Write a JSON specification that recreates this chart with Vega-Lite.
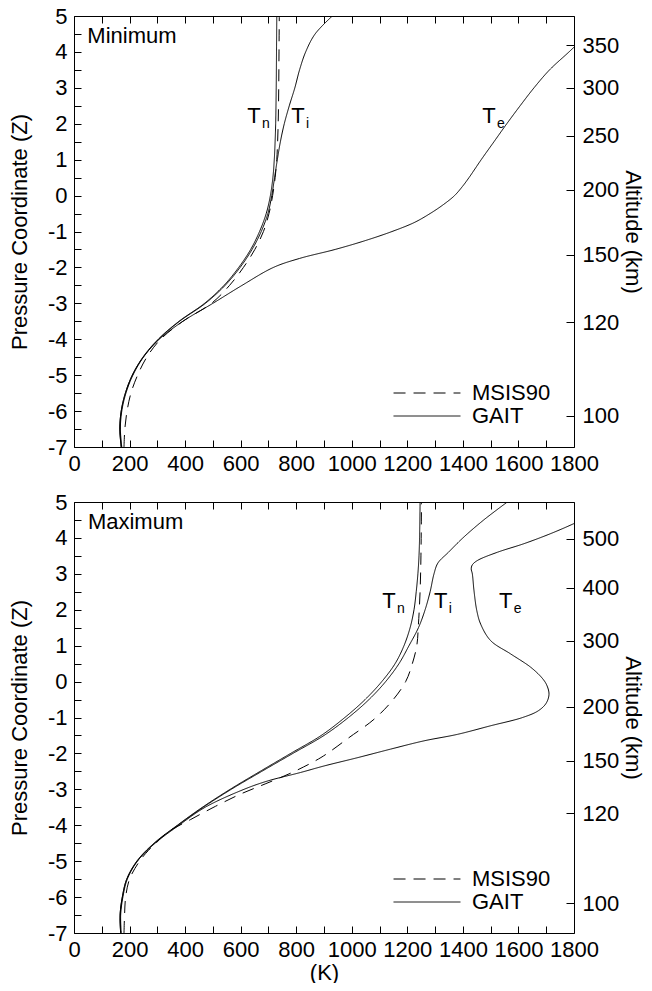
{
  "$schema": "https://vega.github.io/schema/vega-lite/v6.json",
  "padding": {"left": 8, "top": 5, "right": 0, "bottom": 0},
  "spacing": 17,
  "config": {
    "font": "Liberation Sans",
    "view": {"stroke": null},
    "axis": {"labelFont": "Liberation Sans", "titleFont": "Liberation Sans", "labelFontSize": 22, "titleFontSize": 22, "titleFontWeight": "normal", "labelColor": "#000", "titleColor": "#000", "domainColor": "#000", "tickColor": "#000", "domainWidth": 1, "tickWidth": 1, "grid": false},
    "legend": {"labelFont": "Liberation Sans", "labelFontSize": 22, "labelColor": "#000"}
  },
  "datasets": {
    "curves": [
      {"p":"min","s":"Tn","m":"GAIT","z":-7,"t":170},{"p":"min","s":"Tn","m":"GAIT","z":-6.5,"t":165},{"p":"min","s":"Tn","m":"GAIT","z":-6,"t":170},{"p":"min","s":"Tn","m":"GAIT","z":-5.5,"t":185},{"p":"min","s":"Tn","m":"GAIT","z":-5,"t":210},{"p":"min","s":"Tn","m":"GAIT","z":-4.5,"t":248},{"p":"min","s":"Tn","m":"GAIT","z":-4,"t":303},{"p":"min","s":"Tn","m":"GAIT","z":-3.5,"t":378},{"p":"min","s":"Tn","m":"GAIT","z":-3,"t":470},{"p":"min","s":"Tn","m":"GAIT","z":-2.5,"t":540},{"p":"min","s":"Tn","m":"GAIT","z":-2,"t":593},{"p":"min","s":"Tn","m":"GAIT","z":-1.5,"t":636},{"p":"min","s":"Tn","m":"GAIT","z":-1,"t":668},{"p":"min","s":"Tn","m":"GAIT","z":-0.5,"t":692},{"p":"min","s":"Tn","m":"GAIT","z":0,"t":707},{"p":"min","s":"Tn","m":"GAIT","z":0.5,"t":716},{"p":"min","s":"Tn","m":"GAIT","z":1,"t":721},{"p":"min","s":"Tn","m":"GAIT","z":1.5,"t":724},{"p":"min","s":"Tn","m":"GAIT","z":2,"t":726},{"p":"min","s":"Tn","m":"GAIT","z":3,"t":728},{"p":"min","s":"Tn","m":"GAIT","z":4,"t":729},{"p":"min","s":"Tn","m":"GAIT","z":5,"t":730},
      {"p":"min","s":"Ti","m":"GAIT","z":-7,"t":172},{"p":"min","s":"Ti","m":"GAIT","z":-6.5,"t":167},{"p":"min","s":"Ti","m":"GAIT","z":-6,"t":172},{"p":"min","s":"Ti","m":"GAIT","z":-5.5,"t":187},{"p":"min","s":"Ti","m":"GAIT","z":-5,"t":212},{"p":"min","s":"Ti","m":"GAIT","z":-4.5,"t":250},{"p":"min","s":"Ti","m":"GAIT","z":-4,"t":305},{"p":"min","s":"Ti","m":"GAIT","z":-3.5,"t":380},{"p":"min","s":"Ti","m":"GAIT","z":-3,"t":473},{"p":"min","s":"Ti","m":"GAIT","z":-2.5,"t":544},{"p":"min","s":"Ti","m":"GAIT","z":-2,"t":598},{"p":"min","s":"Ti","m":"GAIT","z":-1.5,"t":641},{"p":"min","s":"Ti","m":"GAIT","z":-1,"t":674},{"p":"min","s":"Ti","m":"GAIT","z":-0.5,"t":698},{"p":"min","s":"Ti","m":"GAIT","z":0,"t":712},{"p":"min","s":"Ti","m":"GAIT","z":0.5,"t":722},{"p":"min","s":"Ti","m":"GAIT","z":1,"t":732},{"p":"min","s":"Ti","m":"GAIT","z":1.5,"t":743},{"p":"min","s":"Ti","m":"GAIT","z":2,"t":757},{"p":"min","s":"Ti","m":"GAIT","z":2.5,"t":775},{"p":"min","s":"Ti","m":"GAIT","z":3,"t":795},{"p":"min","s":"Ti","m":"GAIT","z":3.5,"t":812},{"p":"min","s":"Ti","m":"GAIT","z":4,"t":834},{"p":"min","s":"Ti","m":"GAIT","z":4.5,"t":868},{"p":"min","s":"Ti","m":"GAIT","z":5,"t":930},
      {"p":"min","s":"Te","m":"GAIT","z":-7,"t":170},{"p":"min","s":"Te","m":"GAIT","z":-6.5,"t":165},{"p":"min","s":"Te","m":"GAIT","z":-6,"t":170},{"p":"min","s":"Te","m":"GAIT","z":-5.5,"t":185},{"p":"min","s":"Te","m":"GAIT","z":-5,"t":210},{"p":"min","s":"Te","m":"GAIT","z":-4.5,"t":249},{"p":"min","s":"Te","m":"GAIT","z":-4,"t":307},{"p":"min","s":"Te","m":"GAIT","z":-3.5,"t":392},{"p":"min","s":"Te","m":"GAIT","z":-3,"t":500},{"p":"min","s":"Te","m":"GAIT","z":-2.5,"t":605},{"p":"min","s":"Te","m":"GAIT","z":-2,"t":718},{"p":"min","s":"Te","m":"GAIT","z":-1.75,"t":812},{"p":"min","s":"Te","m":"GAIT","z":-1.5,"t":940},{"p":"min","s":"Te","m":"GAIT","z":-1.25,"t":1050},{"p":"min","s":"Te","m":"GAIT","z":-1,"t":1145},{"p":"min","s":"Te","m":"GAIT","z":-0.75,"t":1225},{"p":"min","s":"Te","m":"GAIT","z":-0.5,"t":1282},{"p":"min","s":"Te","m":"GAIT","z":-0.25,"t":1330},{"p":"min","s":"Te","m":"GAIT","z":0,"t":1370},{"p":"min","s":"Te","m":"GAIT","z":0.25,"t":1398},{"p":"min","s":"Te","m":"GAIT","z":0.5,"t":1422},{"p":"min","s":"Te","m":"GAIT","z":1,"t":1466},{"p":"min","s":"Te","m":"GAIT","z":1.5,"t":1512},{"p":"min","s":"Te","m":"GAIT","z":2,"t":1558},{"p":"min","s":"Te","m":"GAIT","z":2.5,"t":1606},{"p":"min","s":"Te","m":"GAIT","z":3,"t":1656},{"p":"min","s":"Te","m":"GAIT","z":3.5,"t":1712},{"p":"min","s":"Te","m":"GAIT","z":4,"t":1782},{"p":"min","s":"Te","m":"GAIT","z":4.5,"t":1850},
      {"p":"min","s":"Tm","m":"MSIS90","z":-7,"t":180},{"p":"min","s":"Tm","m":"MSIS90","z":-6.5,"t":183},{"p":"min","s":"Tm","m":"MSIS90","z":-6,"t":191},{"p":"min","s":"Tm","m":"MSIS90","z":-5.5,"t":205},{"p":"min","s":"Tm","m":"MSIS90","z":-5,"t":229},{"p":"min","s":"Tm","m":"MSIS90","z":-4.5,"t":262},{"p":"min","s":"Tm","m":"MSIS90","z":-4,"t":312},{"p":"min","s":"Tm","m":"MSIS90","z":-3.5,"t":392},{"p":"min","s":"Tm","m":"MSIS90","z":-3,"t":495},{"p":"min","s":"Tm","m":"MSIS90","z":-2.5,"t":560},{"p":"min","s":"Tm","m":"MSIS90","z":-2,"t":610},{"p":"min","s":"Tm","m":"MSIS90","z":-1.5,"t":651},{"p":"min","s":"Tm","m":"MSIS90","z":-1,"t":682},{"p":"min","s":"Tm","m":"MSIS90","z":-0.5,"t":702},{"p":"min","s":"Tm","m":"MSIS90","z":0,"t":715},{"p":"min","s":"Tm","m":"MSIS90","z":0.5,"t":724},{"p":"min","s":"Tm","m":"MSIS90","z":1,"t":730},{"p":"min","s":"Tm","m":"MSIS90","z":2,"t":735},{"p":"min","s":"Tm","m":"MSIS90","z":3,"t":737},{"p":"min","s":"Tm","m":"MSIS90","z":4,"t":738},{"p":"min","s":"Tm","m":"MSIS90","z":5,"t":739},
      {"p":"max","s":"Tn","m":"GAIT","z":-7,"t":168},{"p":"max","s":"Tn","m":"GAIT","z":-6.5,"t":166},{"p":"max","s":"Tn","m":"GAIT","z":-6,"t":174},{"p":"max","s":"Tn","m":"GAIT","z":-5.5,"t":190},{"p":"max","s":"Tn","m":"GAIT","z":-5,"t":226},{"p":"max","s":"Tn","m":"GAIT","z":-4.5,"t":288},{"p":"max","s":"Tn","m":"GAIT","z":-4,"t":372},{"p":"max","s":"Tn","m":"GAIT","z":-3.5,"t":462},{"p":"max","s":"Tn","m":"GAIT","z":-3,"t":562},{"p":"max","s":"Tn","m":"GAIT","z":-2.5,"t":670},{"p":"max","s":"Tn","m":"GAIT","z":-2,"t":780},{"p":"max","s":"Tn","m":"GAIT","z":-1.5,"t":890},{"p":"max","s":"Tn","m":"GAIT","z":-1,"t":975},{"p":"max","s":"Tn","m":"GAIT","z":-0.5,"t":1048},{"p":"max","s":"Tn","m":"GAIT","z":0,"t":1108},{"p":"max","s":"Tn","m":"GAIT","z":0.5,"t":1156},{"p":"max","s":"Tn","m":"GAIT","z":1,"t":1188},{"p":"max","s":"Tn","m":"GAIT","z":1.5,"t":1210},{"p":"max","s":"Tn","m":"GAIT","z":2,"t":1224},{"p":"max","s":"Tn","m":"GAIT","z":2.5,"t":1232},{"p":"max","s":"Tn","m":"GAIT","z":3,"t":1238},{"p":"max","s":"Tn","m":"GAIT","z":3.5,"t":1242},{"p":"max","s":"Tn","m":"GAIT","z":4,"t":1244},{"p":"max","s":"Tn","m":"GAIT","z":5,"t":1246},
      {"p":"max","s":"Ti","m":"GAIT","z":-7,"t":170},{"p":"max","s":"Ti","m":"GAIT","z":-6.5,"t":168},{"p":"max","s":"Ti","m":"GAIT","z":-6,"t":176},{"p":"max","s":"Ti","m":"GAIT","z":-5.5,"t":192},{"p":"max","s":"Ti","m":"GAIT","z":-5,"t":228},{"p":"max","s":"Ti","m":"GAIT","z":-4.5,"t":290},{"p":"max","s":"Ti","m":"GAIT","z":-4,"t":374},{"p":"max","s":"Ti","m":"GAIT","z":-3.5,"t":465},{"p":"max","s":"Ti","m":"GAIT","z":-3,"t":566},{"p":"max","s":"Ti","m":"GAIT","z":-2.5,"t":676},{"p":"max","s":"Ti","m":"GAIT","z":-2,"t":788},{"p":"max","s":"Ti","m":"GAIT","z":-1.5,"t":900},{"p":"max","s":"Ti","m":"GAIT","z":-1,"t":988},{"p":"max","s":"Ti","m":"GAIT","z":-0.5,"t":1062},{"p":"max","s":"Ti","m":"GAIT","z":0,"t":1122},{"p":"max","s":"Ti","m":"GAIT","z":0.5,"t":1170},{"p":"max","s":"Ti","m":"GAIT","z":1,"t":1206},{"p":"max","s":"Ti","m":"GAIT","z":1.5,"t":1240},{"p":"max","s":"Ti","m":"GAIT","z":2,"t":1264},{"p":"max","s":"Ti","m":"GAIT","z":2.5,"t":1282},{"p":"max","s":"Ti","m":"GAIT","z":3,"t":1296},{"p":"max","s":"Ti","m":"GAIT","z":3.3,"t":1310},{"p":"max","s":"Ti","m":"GAIT","z":3.6,"t":1348},{"p":"max","s":"Ti","m":"GAIT","z":4,"t":1400},{"p":"max","s":"Ti","m":"GAIT","z":4.5,"t":1475},{"p":"max","s":"Ti","m":"GAIT","z":5,"t":1560},
      {"p":"max","s":"Te","m":"GAIT","z":-7,"t":168},{"p":"max","s":"Te","m":"GAIT","z":-6.5,"t":166},{"p":"max","s":"Te","m":"GAIT","z":-6,"t":174},{"p":"max","s":"Te","m":"GAIT","z":-5.5,"t":190},{"p":"max","s":"Te","m":"GAIT","z":-5,"t":228},{"p":"max","s":"Te","m":"GAIT","z":-4.5,"t":292},{"p":"max","s":"Te","m":"GAIT","z":-4,"t":378},{"p":"max","s":"Te","m":"GAIT","z":-3.5,"t":472},{"p":"max","s":"Te","m":"GAIT","z":-3,"t":612},{"p":"max","s":"Te","m":"GAIT","z":-2.77,"t":696},{"p":"max","s":"Te","m":"GAIT","z":-2.53,"t":816},{"p":"max","s":"Te","m":"GAIT","z":-2.35,"t":900},{"p":"max","s":"Te","m":"GAIT","z":-2.12,"t":1020},{"p":"max","s":"Te","m":"GAIT","z":-1.88,"t":1140},{"p":"max","s":"Te","m":"GAIT","z":-1.65,"t":1260},{"p":"max","s":"Te","m":"GAIT","z":-1.47,"t":1380},{"p":"max","s":"Te","m":"GAIT","z":-1.23,"t":1500},{"p":"max","s":"Te","m":"GAIT","z":-1,"t":1615},{"p":"max","s":"Te","m":"GAIT","z":-0.81,"t":1672},{"p":"max","s":"Te","m":"GAIT","z":-0.6,"t":1700},{"p":"max","s":"Te","m":"GAIT","z":-0.35,"t":1710},{"p":"max","s":"Te","m":"GAIT","z":-0.1,"t":1702},{"p":"max","s":"Te","m":"GAIT","z":0.1,"t":1685},{"p":"max","s":"Te","m":"GAIT","z":0.4,"t":1644},{"p":"max","s":"Te","m":"GAIT","z":0.77,"t":1572},{"p":"max","s":"Te","m":"GAIT","z":1.14,"t":1500},{"p":"max","s":"Te","m":"GAIT","z":1.6,"t":1464},{"p":"max","s":"Te","m":"GAIT","z":1.98,"t":1450},{"p":"max","s":"Te","m":"GAIT","z":2.53,"t":1440},{"p":"max","s":"Te","m":"GAIT","z":3,"t":1434},{"p":"max","s":"Te","m":"GAIT","z":3.14,"t":1430},{"p":"max","s":"Te","m":"GAIT","z":3.25,"t":1434},{"p":"max","s":"Te","m":"GAIT","z":3.37,"t":1452},{"p":"max","s":"Te","m":"GAIT","z":3.6,"t":1524},{"p":"max","s":"Te","m":"GAIT","z":3.84,"t":1620},{"p":"max","s":"Te","m":"GAIT","z":4.12,"t":1716},{"p":"max","s":"Te","m":"GAIT","z":4.4,"t":1800},{"p":"max","s":"Te","m":"GAIT","z":4.7,"t":1880},
      {"p":"max","s":"Tm","m":"MSIS90","z":-7,"t":180},{"p":"max","s":"Tm","m":"MSIS90","z":-6.5,"t":182},{"p":"max","s":"Tm","m":"MSIS90","z":-6,"t":186},{"p":"max","s":"Tm","m":"MSIS90","z":-5.5,"t":200},{"p":"max","s":"Tm","m":"MSIS90","z":-5,"t":236},{"p":"max","s":"Tm","m":"MSIS90","z":-4.7,"t":268},{"p":"max","s":"Tm","m":"MSIS90","z":-4.5,"t":295},{"p":"max","s":"Tm","m":"MSIS90","z":-4.2,"t":336},{"p":"max","s":"Tm","m":"MSIS90","z":-3.84,"t":420},{"p":"max","s":"Tm","m":"MSIS90","z":-3.47,"t":510},{"p":"max","s":"Tm","m":"MSIS90","z":-3.13,"t":600},{"p":"max","s":"Tm","m":"MSIS90","z":-2.85,"t":688},{"p":"max","s":"Tm","m":"MSIS90","z":-2.55,"t":780},{"p":"max","s":"Tm","m":"MSIS90","z":-2.2,"t":870},{"p":"max","s":"Tm","m":"MSIS90","z":-2,"t":912},{"p":"max","s":"Tm","m":"MSIS90","z":-1.56,"t":990},{"p":"max","s":"Tm","m":"MSIS90","z":-1.05,"t":1080},{"p":"max","s":"Tm","m":"MSIS90","z":-0.53,"t":1146},{"p":"max","s":"Tm","m":"MSIS90","z":0,"t":1194},{"p":"max","s":"Tm","m":"MSIS90","z":0.5,"t":1218},{"p":"max","s":"Tm","m":"MSIS90","z":1,"t":1234},{"p":"max","s":"Tm","m":"MSIS90","z":1.6,"t":1240},{"p":"max","s":"Tm","m":"MSIS90","z":2.53,"t":1246},{"p":"max","s":"Tm","m":"MSIS90","z":3.5,"t":1249},{"p":"max","s":"Tm","m":"MSIS90","z":5,"t":1251}
    ],
    "labels": [
      {"p":"min","main":"T","sub":"n","t":648,"z":2.22},{"p":"min","main":"T","sub":"i","t":806,"z":2.22},{"p":"min","main":"T","sub":"e","t":1494,"z":2.22},
      {"p":"max","main":"T","sub":"n","t":1134,"z":2.24},{"p":"max","main":"T","sub":"i","t":1320,"z":2.24},{"p":"max","main":"T","sub":"e","t":1554,"z":2.24}
    ],
    "names": [
      {"p":"min","name":"Minimum","t":48,"z":4.44},
      {"p":"max","name":"Maximum","t":50,"z":4.44}
    ]
  },
  "resolve": {"scale": {"strokeDash": "independent"}, "legend": {"strokeDash": "independent"}},
  "vconcat": [
    {
      "width": 500, "height": 431,
      "resolve": {"axis": {"x": "independent", "y": "independent"}},
      "layer": [
        {
          "data": {"name": "curves"},
          "transform": [{"filter": "datum.p == 'min'"}],
          "mark": {"type": "line", "color": "#000", "strokeWidth": 1, "interpolate": "catmull-rom", "clip": true},
          "encoding": {
            "x": {"field": "t", "type": "quantitative", "scale": {"domain": [0, 1800], "nice": false, "zero": false},
              "axis": {"orient": "bottom", "values": [0,100,200,300,400,500,600,700,800,900,1000,1100,1200,1300,1400,1500,1600,1700,1800], "format": "d", "labelExpr": "datum.value % 200 == 0 ? datum.label : ''", "tickSize": -7, "labelPadding": 13, "labelOverlap": false, "labelFlush": false, "title": null}},
            "y": {"field": "z", "type": "quantitative", "scale": {"domain": [-7, 5], "nice": false, "zero": false},
              "axis": {"orient": "left", "values": [-7,-6.5,-6,-5.5,-5,-4.5,-4,-3.5,-3,-2.5,-2,-1.5,-1,-0.5,0,0.5,1,1.5,2,2.5,3,3.5,4,4.5,5], "labelExpr": "datum.value % 1 == 0 ? (datum.value < 0 ? '-' + abs(datum.value) : '' + datum.value) : ''", "tickSize": -7, "labelPadding": 14, "labelOverlap": false, "labelFlush": false, "title": "Pressure Coordinate (Z)", "titlePadding": 16}},
            "detail": {"field": "s"},
            "order": {"field": "z", "type": "quantitative"},
            "strokeDash": {"field": "m", "type": "nominal", "scale": {"domain": ["MSIS90", "GAIT"], "range": [[12, 8], [1, 0]]},
              "legend": {"orient": "none", "legendX": 342, "legendY": 366, "title": null, "padding": 0, "symbolType": "M-4,0H4", "symbolSize": 280, "symbolStrokeWidth": 1, "symbolStrokeColor": "#000", "labelOffset": 34, "rowPadding": 1, "labelFontSize": 22}}
          }
        },
        {
          "data": {"name": "labels"},
          "transform": [{"filter": "datum.p == 'min'"}],
          "mark": {"type": "text", "fontSize": 22, "align": "center", "baseline": "middle", "color": "#000"},
          "encoding": {
            "x": {"field": "t", "type": "quantitative", "scale": {"domain": [0, 1800], "nice": false, "zero": false},
              "axis": {"orient": "top", "values": [0,100,200,300,400,500,600,700,800,900,1000,1100,1200,1300,1400,1500,1600,1700,1800], "labels": false, "tickSize": -7, "title": null}},
            "y": {"field": "z", "type": "quantitative", "scale": {"domain": [-7, 5], "nice": false, "zero": false},
              "axis": {"orient": "right", "values": [4.18, 3.0, 1.66, 0.16, -1.65, -3.52, -6.13], "labelExpr": "datum.value > 4 ? '350' : datum.value > 2.5 ? '300' : datum.value > 1 ? '250' : datum.value > -1 ? '200' : datum.value > -2.5 ? '150' : datum.value > -5 ? '120' : '100'", "tickSize": -8, "labelPadding": 16, "labelOverlap": false, "labelFlush": false, "title": "Altitude (km)", "titlePadding": 2}},
            "text": {"field": "main"}
          }
        },
        {
          "data": {"name": "labels"},
          "transform": [{"filter": "datum.p == 'min'"}],
          "mark": {"type": "text", "fontSize": 14, "align": "left", "baseline": "middle", "dx": 8, "dy": 8, "color": "#000"},
          "encoding": {
            "x": {"field": "t", "type": "quantitative", "scale": {"domain": [0, 1800], "nice": false, "zero": false}, "axis": null},
            "y": {"field": "z", "type": "quantitative", "scale": {"domain": [-7, 5], "nice": false, "zero": false}, "axis": null},
            "text": {"field": "sub"}
          }
        },
        {
          "data": {"name": "names"},
          "transform": [{"filter": "datum.p == 'min'"}],
          "mark": {"type": "text", "fontSize": 22, "align": "left", "baseline": "middle", "color": "#000"},
          "encoding": {
            "x": {"field": "t", "type": "quantitative", "scale": {"domain": [0, 1800], "nice": false, "zero": false}, "axis": null},
            "y": {"field": "z", "type": "quantitative", "scale": {"domain": [-7, 5], "nice": false, "zero": false}, "axis": null},
            "text": {"field": "name"}
          }
        }
      ]
    },
    {
      "width": 500, "height": 431,
      "resolve": {"axis": {"x": "independent", "y": "independent"}},
      "layer": [
        {
          "data": {"name": "curves"},
          "transform": [{"filter": "datum.p == 'max'"}],
          "mark": {"type": "line", "color": "#000", "strokeWidth": 1, "interpolate": "catmull-rom", "clip": true},
          "encoding": {
            "x": {"field": "t", "type": "quantitative", "scale": {"domain": [0, 1800], "nice": false, "zero": false},
              "axis": {"orient": "bottom", "values": [0,100,200,300,400,500,600,700,800,900,1000,1100,1200,1300,1400,1500,1600,1700,1800], "format": "d", "labelExpr": "datum.value % 200 == 0 ? datum.label : ''", "tickSize": -7, "labelPadding": 13, "labelOverlap": false, "labelFlush": false, "title": "(K)", "titlePadding": 2}},
            "y": {"field": "z", "type": "quantitative", "scale": {"domain": [-7, 5], "nice": false, "zero": false},
              "axis": {"orient": "left", "values": [-7,-6.5,-6,-5.5,-5,-4.5,-4,-3.5,-3,-2.5,-2,-1.5,-1,-0.5,0,0.5,1,1.5,2,2.5,3,3.5,4,4.5,5], "labelExpr": "datum.value % 1 == 0 ? (datum.value < 0 ? '-' + abs(datum.value) : '' + datum.value) : ''", "tickSize": -7, "labelPadding": 14, "labelOverlap": false, "labelFlush": false, "title": "Pressure Coordinate (Z)", "titlePadding": 16}},
            "detail": {"field": "s"},
            "order": {"field": "z", "type": "quantitative"},
            "strokeDash": {"field": "m", "type": "nominal", "scale": {"domain": ["MSIS90", "GAIT"], "range": [[12, 8], [1, 0]]},
              "legend": {"orient": "none", "legendX": 342, "legendY": 366, "title": null, "padding": 0, "symbolType": "M-4,0H4", "symbolSize": 280, "symbolStrokeWidth": 1, "symbolStrokeColor": "#000", "labelOffset": 34, "rowPadding": 1, "labelFontSize": 22}}
          }
        },
        {
          "data": {"name": "labels"},
          "transform": [{"filter": "datum.p == 'max'"}],
          "mark": {"type": "text", "fontSize": 22, "align": "center", "baseline": "middle", "color": "#000"},
          "encoding": {
            "x": {"field": "t", "type": "quantitative", "scale": {"domain": [0, 1800], "nice": false, "zero": false},
              "axis": {"orient": "top", "values": [0,100,200,300,400,500,600,700,800,900,1000,1100,1200,1300,1400,1500,1600,1700,1800], "labels": false, "tickSize": -7, "title": null}},
            "y": {"field": "z", "type": "quantitative", "scale": {"domain": [-7, 5], "nice": false, "zero": false},
              "axis": {"orient": "right", "values": [3.97, 2.61, 1.13, -0.7, -2.2, -3.66, -6.17], "labelExpr": "datum.value > 3.5 ? '500' : datum.value > 2 ? '400' : datum.value > 0.5 ? '300' : datum.value > -1.5 ? '200' : datum.value > -3 ? '150' : datum.value > -5 ? '120' : '100'", "tickSize": -8, "labelPadding": 16, "labelOverlap": false, "labelFlush": false, "title": "Altitude (km)", "titlePadding": 2}},
            "text": {"field": "main"}
          }
        },
        {
          "data": {"name": "labels"},
          "transform": [{"filter": "datum.p == 'max'"}],
          "mark": {"type": "text", "fontSize": 14, "align": "left", "baseline": "middle", "dx": 8, "dy": 8, "color": "#000"},
          "encoding": {
            "x": {"field": "t", "type": "quantitative", "scale": {"domain": [0, 1800], "nice": false, "zero": false}, "axis": null},
            "y": {"field": "z", "type": "quantitative", "scale": {"domain": [-7, 5], "nice": false, "zero": false}, "axis": null},
            "text": {"field": "sub"}
          }
        },
        {
          "data": {"name": "names"},
          "transform": [{"filter": "datum.p == 'max'"}],
          "mark": {"type": "text", "fontSize": 22, "align": "left", "baseline": "middle", "color": "#000"},
          "encoding": {
            "x": {"field": "t", "type": "quantitative", "scale": {"domain": [0, 1800], "nice": false, "zero": false}, "axis": null},
            "y": {"field": "z", "type": "quantitative", "scale": {"domain": [-7, 5], "nice": false, "zero": false}, "axis": null},
            "text": {"field": "name"}
          }
        }
      ]
    }
  ]
}
